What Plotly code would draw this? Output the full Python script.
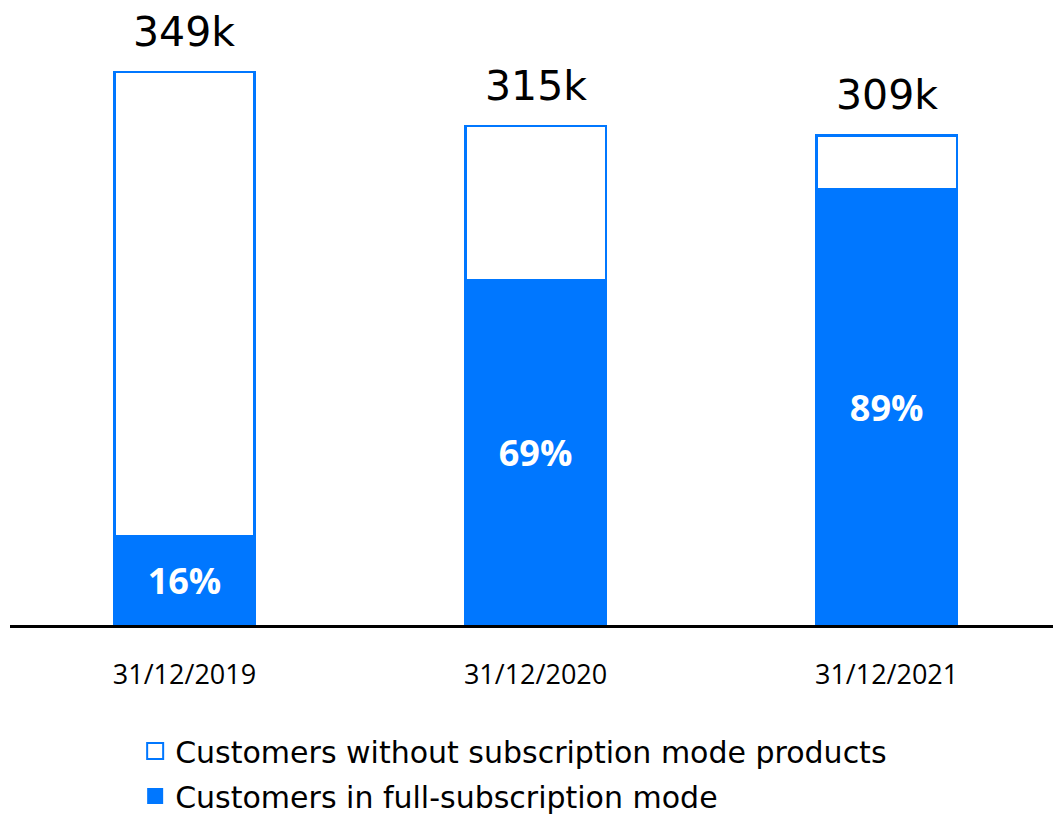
import plotly.graph_objects as go

# Customer base at year end (thousands) and share in full-subscription mode (%)
dates = ["31/12/2019", "31/12/2020", "31/12/2021"]
total_k = [349, 315, 309]
full_sub_pct = [16, 69, 89]

BLUE = "#0077FF"
FONT = "Open Sans, Lato, sans-serif"
WIDE_FONT = "DejaVu Sans, Open Sans, sans-serif"

full_k = [t * p / 100 for t, p in zip(total_k, full_sub_pct)]
without_k = [t - f for t, f in zip(total_k, full_k)]

fig = go.Figure()

fig.add_trace(go.Bar(
    x=dates, y=full_k, width=0.4,
    marker=dict(color=BLUE, line=dict(color=BLUE, width=2)),
    text=[f"<b>{p}%</b>" for p in full_sub_pct],
    textposition="inside", insidetextanchor="middle",
    textfont=dict(color="white", size=36, family=FONT),
    showlegend=False, hoverinfo="skip",
))
fig.add_trace(go.Bar(
    x=dates, y=without_k, width=0.4,
    marker=dict(color="white", line=dict(color=BLUE, width=2.5)),
    showlegend=False, hoverinfo="skip",
))

# Legend entries with larger square swatches
fig.add_trace(go.Scatter(
    x=[None], y=[None], mode="markers",
    name="Customers without subscription mode products",
    legendgroup="a",
    marker=dict(symbol="square", size=16, color="white",
                line=dict(color=BLUE, width=2)),
))
fig.add_trace(go.Scatter(
    x=[None], y=[None], mode="markers",
    name="Customers in full-subscription mode",
    legendgroup="b",
    marker=dict(symbol="square", size=16, color=BLUE,
                line=dict(color=BLUE, width=0)),
))

for d, t in zip(dates, total_k):
    fig.add_annotation(
        x=d, y=t, text=f"{t}k", showarrow=False,
        yanchor="bottom", yshift=14,
        font=dict(size=41, color="black", family=WIDE_FONT),
    )

fig.update_layout(
    width=1053, height=814,
    barmode="stack",
    paper_bgcolor="white", plot_bgcolor="white",
    margin=dict(l=10, r=0, t=0, b=189, autoexpand=False),
    font=dict(family=FONT, color="black"),
    xaxis=dict(
        range=[-0.497, 2.474],
        showline=True, linecolor="black", linewidth=2.5,
        ticks="", showgrid=False, zeroline=False,
        tickfont=dict(size=27, color="black", family=FONT),
        ticklabelstandoff=24,
    ),
    yaxis=dict(
        range=[0, 394.4], visible=False, showgrid=False, zeroline=False,
    ),
    legend=dict(
        orientation="v", traceorder="grouped", tracegroupgap=3,
        x=0.12, xanchor="left", y=-0.16, yanchor="top",
        font=dict(size=30, color="black", family=WIDE_FONT),
        bgcolor="rgba(0,0,0,0)",
    ),
)

fig.write_html("out.html")
